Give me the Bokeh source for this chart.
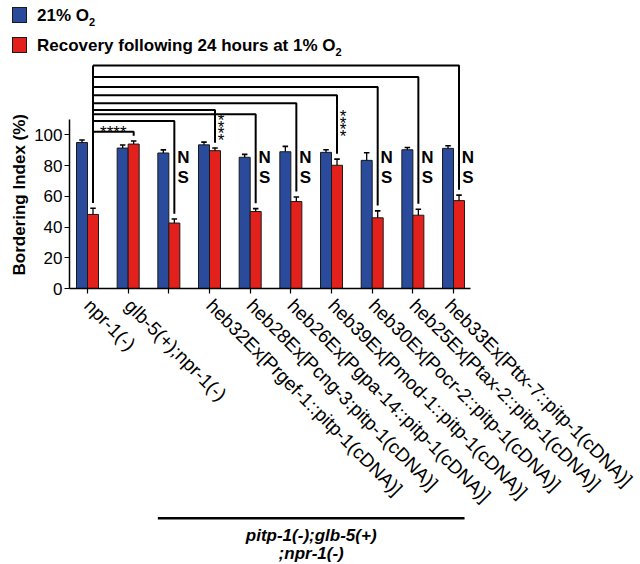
import math
from bokeh.plotting import figure
from bokeh.layouts import column
from bokeh.models import Range1d, FixedTicker, Title, ColumnDataSource, Div
from bokeh.core.properties import value
from bokeh.embed import file_html
from bokeh.resources import INLINE

# ---------------- data ----------------
groups = [1, 2, 3, 4, 5, 6, 7, 8, 9, 10]
tick_labels = [
    "npr-1(-)",
    "glb-5(+);npr-1(-)",
    "",
    "heb32Ex[Prgef-1::pitp-1(cDNA)]",
    "heb28Ex[Pcng-3:pitp-1(cDNA)]",
    "heb26Ex[Pgpa-14::pitp-1(cDNA)]",
    "heb39Ex[Pmod-1::pitp-1(cDNA)]",
    "heb30Ex[Pocr-2::pitp-1(cDNA)]",
    "heb25Ex[Ptax-2::pitp-1(cDNA)]",
    "heb33Ex[Pttx-7::pitp-1(cDNA)]",
]
normoxia = [95.0, 91.4, 88.2, 93.5, 85.4, 89.0, 88.6, 83.4, 90.3, 91.2]
normoxia_err = [1.7, 2.0, 2.0, 1.8, 1.9, 3.5, 1.7, 5.0, 1.5, 1.7]
recovery = [48.2, 94.0, 42.6, 89.7, 50.1, 56.6, 80.2, 46.0, 47.7, 57.2]
recovery_err = [4.0, 2.0, 2.6, 1.7, 1.9, 3.0, 4.0, 4.5, 3.9, 3.6]

# significance vs. group 1 (recovery)
sig_groups = [2, 3, 4, 5, 6, 7, 8, 9, 10]
sig_marks = ["****", "NS", "****", "NS", "NS", "****", "NS", "NS", "NS"]

legend_labels = [("21% O", "2"), ("Recovery following 24 hours at 1% O", "2")]
group_caption = ["pitp-1(-);glb-5(+)", ";npr-1(-)"]
caption_span = (3, 10)

# ---------------- layout / style ----------------
BLUE = "#2a4a9c"
RED = "#e3211c"
EDGE = "#1a1a1a"
FONT = "Liberation Sans"

PXX = 40.67          # px per x unit
PXY = 1.55           # px per y unit
W = 636
LEG_H = 62
FRAME_H = 228
MAIN_BOTTOM = 226
CAP_H = 46
LEFT = 69
frame_w = W - LEFT
x0 = 1 - 18 / PXX
x_range = Range1d(x0, x0 + frame_w / PXX)

bw = 11 / PXX
off = bw / 2


def blank(fig):
    fig.axis.visible = False
    fig.xgrid.visible = False
    fig.ygrid.visible = False
    fig.outline_line_color = None


# ---------------- legend (HTML) ----------------
rows = []
for k, ((main, sub), col) in enumerate(zip(legend_labels, [BLUE, RED])):
    top = 7 + 30 * k
    rows.append(
        f'<div style="position:absolute;left:12px;top:{top}px;width:15px;'
        f'height:16px;background:{col};border:1px solid {EDGE};"></div>'
        f'<div style="position:absolute;left:37px;top:{top - 1}px;'
        f'line-height:19px;white-space:nowrap;">{main}'
        f'<span style="font-size:11px;position:relative;top:5px;">{sub}</span></div>'
    )
leg_html = (
    f'<div style="position:relative;width:{W}px;height:{LEG_H}px;'
    f"font-family:'{FONT}';font-weight:bold;font-size:17px;color:black;\">"
    + "".join(rows) + "</div>"
)
pl = Div(text=leg_html, width=W, height=LEG_H, margin=0)

# ---------------- main figure ----------------
p = figure(width=W, height=FRAME_H + MAIN_BOTTOM, output_backend="svg",
           toolbar_location=None, x_range=x_range,
           y_range=Range1d(0, FRAME_H / PXY),
           min_border_left=LEFT, min_border_right=0, min_border_top=0,
           min_border_bottom=MAIN_BOTTOM)
p.outline_line_color = None
p.xgrid.visible = False
p.ygrid.visible = False

src = ColumnDataSource(dict(
    xb=[g - off for g in groups], xr=[g + off for g in groups],
    nb=normoxia, rc=recovery,
))
p.vbar(x="xb", top="nb", bottom=0, width=bw, source=src,
       fill_color=BLUE, line_color=EDGE, line_width=1)
p.vbar(x="xr", top="rc", bottom=0, width=bw, source=src,
       fill_color=RED, line_color=EDGE, line_width=1)

# error bars (upper only)
cap = 5.5 / PXX
for xs, vals, errs in ((src.data["xb"], normoxia, normoxia_err),
                       (src.data["xr"], recovery, recovery_err)):
    tops = [v + e for v, e in zip(vals, errs)]
    p.segment(x0=xs, y0=vals, x1=xs, y1=tops, line_color="black", line_width=1.3)
    p.segment(x0=[x - cap / 2 for x in xs], y0=tops,
              x1=[x + cap / 2 for x in xs], y1=tops,
              line_color="black", line_width=1.6)

# significance brackets
bracket_level = {2: 102.1, 3: 109.0, 5: 113.4, 4: 116.1, 6: 120.5,
                 7: 125.8, 8: 131.2, 9: 137.6, 10: 145.2}
gap = 3.5
ref_x = groups[0] + off
ref_top = recovery[0] + recovery_err[0] + gap
bx, by = [[ref_x, ref_x]], [[ref_top, max(bracket_level.values())]]
for g in sig_groups:
    i = g - 1
    gx = g + off
    lvl = bracket_level[g]
    end = recovery[i] + recovery_err[i] + gap
    bx.append([ref_x, gx, gx])
    by.append([lvl, lvl, end])
p.multi_line(xs=bx, ys=by, line_color="black", line_width=2)

star_y = {4: 104.8, 7: 107.5}
star_step = 6.6 / PXY
for g, m in zip(sig_groups, sig_marks):
    gx = g + off
    if m == "NS":
        p.text(x=[gx + 0.22, gx + 0.22], y=[85.2, 72.4], text=["N", "S"],
               text_align="center", text_baseline="middle",
               text_font=value(FONT), text_font_style="bold",
               text_font_size="17px", text_color="black")
    elif g == 2:
        p.text(x=[(ref_x + gx) / 2], y=[bracket_level[g] - 0.6], text=[m],
               text_align="center", text_baseline="alphabetic",
               text_font=value(FONT), text_font_size="17px", text_color="black")
    else:
        n = len(m)
        ys = [star_y[g] + (k - (n - 1) / 2) * star_step for k in range(n)]
        p.text(x=[gx + 0.15] * n, y=ys, text=list(m),
               text_align="center", text_baseline="middle",
               text_font=value(FONT), text_font_size="17px", text_color="black",
               y_offset=3)

# axes
p.yaxis.bounds = (0, 110)
p.yaxis.ticker = FixedTicker(ticks=[0, 20, 40, 60, 80, 100])
p.yaxis.major_label_text_font = FONT
p.yaxis.major_label_text_font_size = "17px"
p.yaxis.major_label_text_color = "black"
p.yaxis.major_label_standoff = 2
p.yaxis.major_tick_in = 0
p.yaxis.major_tick_out = 5
p.yaxis.minor_tick_out = 0
p.yaxis.minor_tick_in = 0
p.yaxis.axis_line_width = 1.5
p.yaxis.axis_line_color = "black"
p.yaxis.major_tick_line_width = 1.2
p.yaxis.major_tick_line_color = "black"

ytitle = Title(text="Bordering Index (%)", align="left", offset=13,
               text_font=FONT, text_font_style="bold", text_font_size="17px",
               text_color="black", standoff=6)
p.add_layout(ytitle, "left")

p.xaxis.bounds = (x0, 1 + (470 - 87) / PXX)
p.xaxis.ticker = FixedTicker(ticks=groups)
p.xaxis.major_label_overrides = {g: lab for g, lab in zip(groups, tick_labels)}
p.xaxis.major_label_orientation = -math.pi / 4
p.xaxis.major_label_text_font = FONT
p.xaxis.major_label_text_font_size = "19px"
p.xaxis.major_label_text_color = "black"
p.xaxis.major_label_standoff = 9
p.xaxis.major_tick_in = 0
p.xaxis.major_tick_out = 5
p.xaxis.minor_tick_out = 0
p.xaxis.minor_tick_in = 0
p.xaxis.axis_line_width = 1.5
p.xaxis.axis_line_color = "black"
p.xaxis.major_tick_line_width = 1.2
p.xaxis.major_tick_line_color = "black"

# ---------------- caption figure ----------------
pc = figure(width=W, height=CAP_H, output_backend="svg", toolbar_location=None,
            x_range=x_range, y_range=Range1d(CAP_H, 0),
            min_border_left=LEFT, min_border_right=0, min_border_top=0,
            min_border_bottom=0)
blank(pc)
cl = caption_span[0] - 2 * off
cr = caption_span[1] + 2 * off
pc.segment(x0=[cl], y0=[1.8], x1=[cr], y1=[1.8], line_color="black",
           line_width=2.5)
pc.text(x=[(cl + cr) / 2] * 2, y=[19, 36.5], text=group_caption,
        text_align="center", text_baseline="middle", text_font=value(FONT),
        text_font_style="bold italic", text_font_size="17px",
        text_color="black")

layout = column(pl, p, pc, spacing=0)
open("out.html", "w").write(file_html(layout, INLINE))
